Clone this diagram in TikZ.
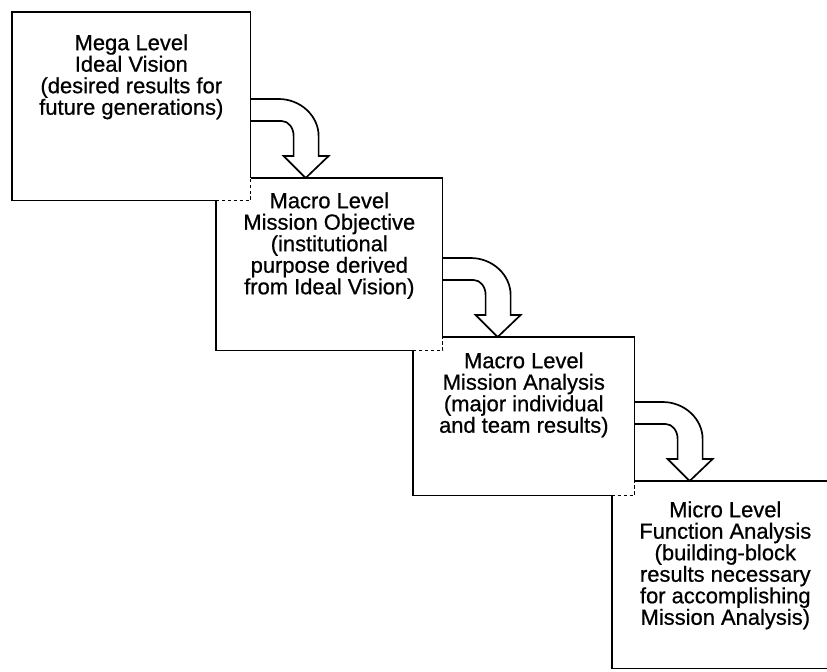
\documentclass[tikz,border=0pt]{standalone}
\usepackage{fontspec}
\setmainfont{Liberation Sans}
\newfontfamily\scanfont[FakeBold=0.7]{Liberation Sans}
\usetikzlibrary{calc}

\begin{document}
\begin{tikzpicture}[x=0.025cm, y=-0.025cm]
      % Define styles
      \tikzset{
        level/.style={rectangle, inner sep=0pt, anchor=north west},
        edge/.style={black, line width=1.2pt},
        hidden/.style={black, line width=1.2pt, dash pattern=on 2.4pt off 1.8pt},
        bent/.style={black, line width=1.2pt, line join=miter},
        label/.style={align=center, anchor=north, inner sep=0pt, font=\scanfont\fontsize{15.6}{15.3}\selectfont}
      }
      \useasboundingbox (0,0) rectangle (827,671);
      % The four levels (outlines drawn below)
      \node[level, minimum width=5.95cm, minimum height=4.7cm] (mega) at (12,12) {};
      \node[level, minimum width=5.65cm, minimum height=4.3cm] (obj) at (216,178) {};
      \node[level, minimum width=5.525cm, minimum height=3.95cm] (mission) at (413,337) {};
      \node[level, minimum width=5.65cm, minimum height=4.675cm] (micro) at (612,481) {};
      % Texts
      \node[label] (megatext) at ($(mega.north)+(0,22)$) {Mega Level\\Ideal Vision\\(desired results for\\future generations)};
      \node[label] (objtext) at ($(obj.north)+(0,14)$) {Macro Level\\Mission Objective\\(institutional\\purpose derived\\from Ideal Vision)};
      \node[label] (missiontext) at ($(mission.north)+(0,15)$) {Macro Level\\Mission Analysis\\(major individual\\and team results)};
      \node[label] (microtext) at ($(micro.north)+(0,20)$) {Micro Level\\Function Analysis\\(building-block\\results necessary\\for accomplishing\\Mission Analysis)};
      % Outlines, each box in front of the one before it
      \draw[edge] (mega.east |- obj.north) -- (mega.north east) -- (mega.north west) -- (mega.south west) -- (mega.south -| obj.west);
      \draw[edge] (mega.east |- obj.north) -- (obj.north east) -- (obj.east |- mission.north);
      \draw[edge] (obj.south -| mission.west) -- (obj.south west) -- (obj.west |- mega.south);
      \draw[edge] (obj.east |- mission.north) -- (mission.north east) -- (mission.east |- micro.north);
      \draw[edge] (mission.south -| micro.west) -- (mission.south west) -- (mission.west |- obj.south);
      \draw[edge] (mission.east |- micro.north) -- (micro.north east) -- (micro.south east) -- (micro.south west) -- (micro.west |- mission.south);
      % Hidden corners
      \foreach \a/\b in {mega/obj, obj/mission, mission/micro} {
        \draw[hidden] (\a.south -| \b.west) -- (\a.south east) -- (\a.east |- \b.north);
      }
      % Bent arrows from one level down to the next
      \foreach \a/\b in {mega/obj, obj/mission, mission/micro} {
        \coordinate (tip) at ($(\a.east |- \b.north)+(55,0)$);
        \begin{scope}[shift={(tip)}]
          \draw[bent] (-55,-79) -- (-27,-79) .. controls (-5,-79) and (13,-62) .. (13,-42) -- (13,-22) -- (23,-22) -- (0,0)
            -- (-22,-22) -- (-12,-22) -- (-12,-42) .. controls (-12,-50) and (-17,-57) .. (-24,-57) -- (-55,-57);
        \end{scope}
      }
    \end{tikzpicture}
\end{document}
